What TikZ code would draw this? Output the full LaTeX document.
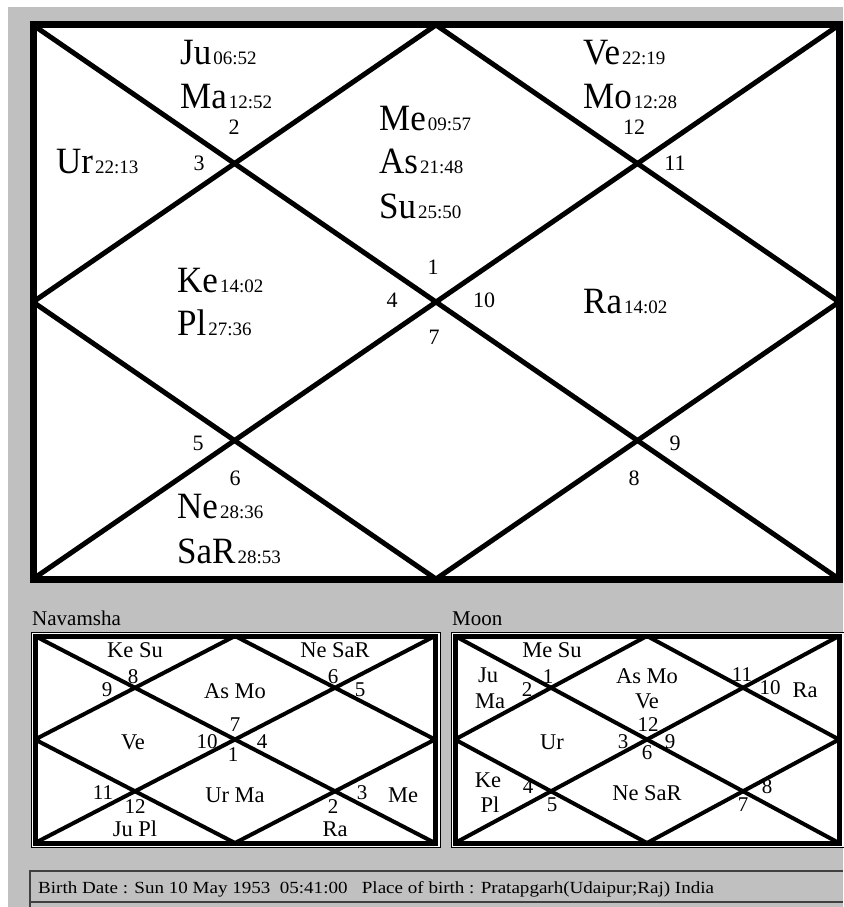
\documentclass[tikz,border=0pt]{standalone}
\usepackage{fontspec}
\setmainfont{Liberation Serif}
\usepackage{xcolor}
\usepackage{graphicx}
\usepackage{tikz}
\usetikzlibrary{positioning, calc}
\definecolor{panel}{RGB}{192,192,192}
\definecolor{frameline}{RGB}{64,64,64}
\newcommand{\bigfont}{\fontsize{35}{37}\selectfont}
\newcommand{\degfont}{\fontsize{19}{20}\selectfont}
\newcommand{\pl}[2]{\scalebox{1}[1.06]{\bigfont #1}\kern2pt{\degfont #2}}
\tikzset{
  planet/.style  = {anchor=base west, inner sep=0pt},
  hnum/.style    = {inner sep=0pt, font=\fontsize{22}{23}\selectfont},
  sign/.style    = {anchor=base, inner sep=0pt, font=\fontsize{22.5}{23}\selectfont},
  snum/.style    = {inner sep=0pt, font=\fontsize{21}{22}\selectfont},
  title/.style   = {anchor=base west, inner sep=0pt, font=\fontsize{21}{22}\selectfont},
  bigline/.style = {line width=5pt},
  smline/.style  = {line width=4pt},
}

\begin{document}
\begin{tikzpicture}[x=1pt, y=-1pt]
\useasboundingbox (0,0) rectangle (843,907);

% ── Background ──────────────────────────────────────────
\fill[white] (0,0) rectangle (843,907);
\fill[panel] (8,7) rectangle (843,907);

% ── Chart frames ────────────────────────────────────────
\coordinate (m-nw) at (33,25);  \coordinate (m-se) at (839,579);
\coordinate (n-nw) at (35,636); \coordinate (n-se) at (435,843);
\coordinate (k-nw) at (455,636); \coordinate (k-se) at (839,843);

\draw[black, line width=1pt, fill=white] ($(n-nw)+(-4,-4)$) rectangle ($(n-se)+(5,4)$);
\draw[black, line width=1pt, fill=white] ($(k-nw)+(-4,-4)$) rectangle ($(k-se)+(5,4)$);

\foreach \c/\w in {m/bigline, n/smline, k/smline} {
  \coordinate (\c-ne) at (\c-nw -| \c-se);
  \coordinate (\c-sw) at (\c-nw |- \c-se);
  \coordinate (\c-n) at ($(\c-nw)!0.5!(\c-ne)$);
  \coordinate (\c-s) at ($(\c-sw)!0.5!(\c-se)$);
  \coordinate (\c-w) at ($(\c-nw)!0.5!(\c-sw)$);
  \coordinate (\c-e) at ($(\c-ne)!0.5!(\c-se)$);
  \fill[white] (\c-nw) rectangle (\c-se);
  \begin{scope}
    \clip (\c-nw) rectangle (\c-se);
    \draw[\w] (\c-nw) -- (\c-se);
    \draw[\w] (\c-ne) -- (\c-sw);
    \draw[\w, line join=miter] (\c-n) -- (\c-e) -- (\c-s) -- (\c-w) -- cycle;
  \end{scope}
}
\draw[line width=7pt] (m-nw) rectangle (m-se);
\draw[line width=5pt] (n-nw) rectangle (n-se);
\draw[line width=5pt] (k-nw) rectangle (k-se);

% ── Main chart: planets ─────────────────────────────────
\node[planet] (ju)  at (180,65)  {\pl{Ju}{06:52}};
\node[planet] (ma)  at (180,108) {\pl{Ma}{12:52}};
\node[planet] (ur)  at (56,173)  {\pl{Ur}{22:13}};
\node[planet] (me)  at (379,130) {\pl{Me}{09:57}};
\node[planet] (as)  at (379,173) {\pl{As}{21:48}};
\node[planet] (su)  at (379,218) {\pl{Su}{25:50}};
\node[planet] (ve)  at (583,65)  {\pl{Ve}{22:19}};
\node[planet] (mo)  at (583,108) {\pl{Mo}{12:28}};
\node[planet] (ke)  at (177,292) {\pl{Ke}{14:02}};
\node[planet] (plu) at (177,335) {\pl{Pl}{27:36}};
\node[planet] (ra)  at (583,313) {\pl{Ra}{14:02}};
\node[planet] (ne)  at (177,518) {\pl{Ne}{28:36}};
\node[planet] (sar) at (177,563) {\pl{SaR}{28:53}};

% ── Main chart: house numbers ───────────────────────────
\node[hnum] (m1)  at (433,267) {1};
\node[hnum] (m2)  at (234,127) {2};
\node[hnum] (m3)  at (199,163) {3};
\node[hnum] (m4)  at (392,300) {4};
\node[hnum] (m5)  at (198,443) {5};
\node[hnum] (m6)  at (235,478) {6};
\node[hnum] (m7)  at (434,337) {7};
\node[hnum] (m8)  at (634,478) {8};
\node[hnum] (m9)  at (675,443) {9};
\node[hnum] (m10) at (484,300) {10};
\node[hnum] (m11) at (675,163) {11};
\node[hnum] (m12) at (634,127) {12};

% ── Navamsha ────────────────────────────────────────────
\node[title] (navtitle) at (32,625) {Navamsha};
\node[sign] (n-kesu) at (135,657) {Ke Su};
\node[sign] (n-nesa) at (335,657) {Ne SaR};
\node[sign] (n-asmo) at (235,698) {As Mo};
\node[sign] (n-ve)   at (133,749) {Ve};
\node[sign] (n-urma) at (235,802) {Ur Ma};
\node[sign] (n-me)   at (403,802) {Me};
\node[sign] (n-jupl) at (135,836) {Ju Pl};
\node[sign] (n-ra)   at (335,836) {Ra};
\node[snum] (n9)  at (107,690) {9};
\node[snum] (n8)  at (133,677) {8};
\node[snum] (n6)  at (333,677) {6};
\node[snum] (n5)  at (360,690) {5};
\node[snum] (n7)  at (235,725) {7};
\node[snum] (n10) at (207,742) {10};
\node[snum] (n4)  at (262,742) {4};
\node[snum] (n1)  at (233,755) {1};
\node[snum] (n11) at (103,793) {11};
\node[snum] (n12) at (135,807) {12};
\node[snum] (n2)  at (333,807) {2};
\node[snum] (n3)  at (362,793) {3};

% ── Moon ────────────────────────────────────────────────
\node[title] (moontitle) at (452,625) {Moon};
\node[sign] (k-mesu) at (552,657) {Me Su};
\node[sign] (k-ju)   at (488,682) {Ju};
\node[sign] (k-ma)   at (490,708) {Ma};
\node[sign] (k-asmo) at (647,683) {As Mo};
\node[sign] (k-ve)   at (647,708) {Ve};
\node[sign] (k-ra)   at (805,697) {Ra};
\node[sign] (k-ur)   at (552,749) {Ur};
\node[sign] (k-ke)   at (488,787) {Ke};
\node[sign] (k-pl)   at (490,812) {Pl};
\node[sign] (k-nesa) at (647,800) {Ne SaR};
\node[snum] (k1)  at (548,677) {1};
\node[snum] (k2)  at (527,690) {2};
\node[snum] (k11) at (742,675) {11};
\node[snum] (k10) at (770,688) {10};
\node[snum] (k12) at (648,725) {12};
\node[snum] (k3)  at (623,742) {3};
\node[snum] (k9)  at (670,742) {9};
\node[snum] (k6)  at (647,753) {6};
\node[snum] (k4)  at (528,787) {4};
\node[snum] (k5)  at (552,805) {5};
\node[snum] (k7)  at (743,805) {7};
\node[snum] (k8)  at (767,787) {8};

% ── Birth details ───────────────────────────────────────
\coordinate (info-nw) at (30,871);
\coordinate (info-ne) at (843,871);
\coordinate (info-sw) at (30,907);
\coordinate (info-mw) at (30,902);
\coordinate (info-me) at (843,902);
\draw[frameline, line width=1.5pt] (info-sw) -- (info-nw) -- (info-ne);
\draw[frameline, line width=1.5pt] (info-mw) -- (info-me);
\node[anchor=base west, inner sep=0pt, font=\fontsize{17}{18}\selectfont] (birth) at (38,893)
  {\scalebox{1.12}[1]{Birth Date : Sun 10 May 1953~ 05:41:00~~ Place of birth : Pratapgarh(Udaipur;Raj) India}};

\end{tikzpicture}
\end{document}
